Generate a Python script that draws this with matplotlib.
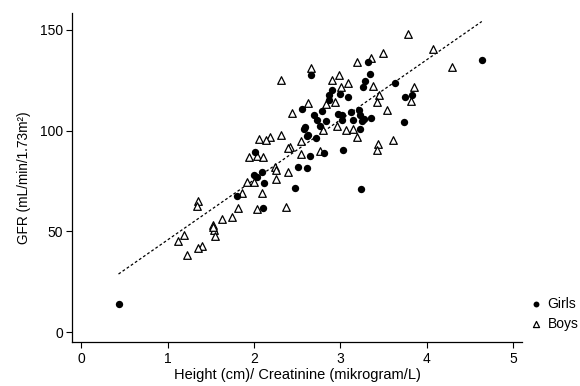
import matplotlib
matplotlib.use("Agg")
import matplotlib.pyplot as plt
import numpy as np

# Height/creatinine ratio vs measured GFR, by sex
girls_x = [0.43, 4.64, 3.24, 2.48, 2.11, 1.80, 2.00, 2.04, 2.09, 2.12,
           2.01, 2.51, 2.61, 2.65, 2.81, 3.03, 2.63, 2.72, 2.59, 2.58,
           2.76, 2.83, 2.70, 2.56, 2.79, 2.66, 2.87, 2.90, 2.87, 3.00,
           3.09, 2.97, 3.02, 3.02, 3.13, 3.15, 3.22, 3.23, 3.25, 3.23,
           3.27, 3.36, 3.26, 3.29, 3.34, 3.32, 3.64, 3.75, 3.83, 3.74,
           2.73, 2.62]
girls_y = [14.0, 135.2, 71.1, 71.7, 61.5, 67.8, 78.0, 77.2, 79.4, 73.9,
           89.3, 82.0, 81.3, 87.6, 89.1, 90.4, 97.9, 96.2, 101.7, 100.9,
           102.3, 105.0, 107.6, 110.6, 109.9, 127.6, 117.7, 120.2, 115.2, 118.2,
           116.6, 108.3, 105.3, 107.8, 109.4, 105.3, 110.3, 107.8, 104.8, 100.7,
           105.6, 106.5, 121.8, 124.8, 128.0, 134.1, 123.7, 116.7, 117.7, 104.5,
           105.3, 97.5]

boys_x = [3.78, 4.07, 4.30, 3.49, 3.36, 3.19, 2.66, 2.31, 2.99, 2.90,
          3.09, 3.01, 3.38, 3.85, 3.82, 3.45, 3.43, 3.54, 3.61, 3.44,
          3.42, 3.19, 3.07, 3.15, 2.96, 2.80, 2.94, 2.83, 2.63, 2.44,
          2.55, 2.54, 2.76, 2.42, 2.39, 2.31, 2.19, 2.14, 2.06, 1.94,
          2.04, 2.10, 2.24, 2.25, 2.39, 2.26, 1.92, 2.00, 1.86, 2.09,
          1.81, 2.04, 2.37, 1.75, 1.63, 1.53, 1.54, 1.55, 1.52, 1.35,
          1.34, 1.19, 1.12, 1.40, 1.35, 1.22]
boys_y = [147.8, 140.5, 131.8, 138.4, 135.9, 133.9, 131.3, 125.3, 127.6, 125.0,
          123.7, 121.5, 122.2, 121.5, 114.9, 117.5, 114.4, 110.1, 95.5, 93.6,
          90.4, 96.9, 100.3, 101.0, 102.2, 100.3, 114.1, 113.2, 113.6, 108.9,
          94.9, 88.4, 90.1, 91.8, 91.3, 97.7, 96.7, 95.5, 96.0, 86.8,
          87.3, 86.8, 82.2, 80.5, 79.4, 75.9, 74.4, 74.7, 69.3, 69.1,
          61.7, 61.0, 62.0, 57.2, 56.4, 53.4, 50.7, 47.8, 52.0, 65.1,
          62.5, 48.1, 45.4, 43.0, 42.0, 38.3]

# fitted line GFR = intercept + slope * ratio
fit_intercept = 16.1
fit_slope = 29.75

x_ticks = [0, 1, 2, 3, 4, 5]
y_ticks = [0, 50, 100, 150]

plt.rcParams.update({
    "font.family": ["Liberation Sans", "DejaVu Sans"],
    "font.size": 10,
})

fig = plt.figure(figsize=(5.8, 3.86), dpi=100, facecolor="white")
ax = fig.add_axes([72 / 580, 44.3 / 386, 450 / 580, 329 / 386])

all_x = np.array(girls_x + boys_x)
fx = np.array([all_x.min(), all_x.max()])
ax.plot(fx, fit_intercept + fit_slope * fx, color="black", lw=0.9,
        linestyle=(0, (2.2, 1.8)), zorder=1)

ax.scatter(girls_x, girls_y, s=28, marker="o", color="black",
           linewidths=0, zorder=3, label="Girls")
ax.scatter(boys_x, boys_y, s=30, marker="^", facecolor="white",
           edgecolor="black", linewidths=0.9, zorder=2, label="Boys")

ax.set_xlim(-0.109, 5.106)
ax.set_ylim(-4.66, 158.5)
ax.set_xticks(x_ticks)
ax.set_yticks(y_ticks)
for s in ("top", "right"):
    ax.spines[s].set_visible(False)
for s in ("left", "bottom"):
    ax.spines[s].set_linewidth(0.9)
ax.tick_params(direction="out", length=4.1, width=0.8, labelsize=10,
               colors="black")
ax.tick_params(axis="y", pad=2.5)
ax.tick_params(axis="x", pad=3.5)

ax.set_xlabel("Height (cm)/ Creatinine (mikrogram/L)", fontsize=10.5,
              labelpad=1)
ax.set_ylabel("GFR (mL/min/1.73m²)", fontsize=9.8, labelpad=6)

fig.legend(loc="upper left", bbox_to_anchor=(529 / 580, 1 - 297 / 386),
           frameon=False, handlelength=1.0, handletextpad=0.35,
           labelspacing=0.4, borderpad=0, borderaxespad=0, fontsize=10,
           markerscale=0.8)

fig.savefig("out.png", dpi=100, facecolor="white")
